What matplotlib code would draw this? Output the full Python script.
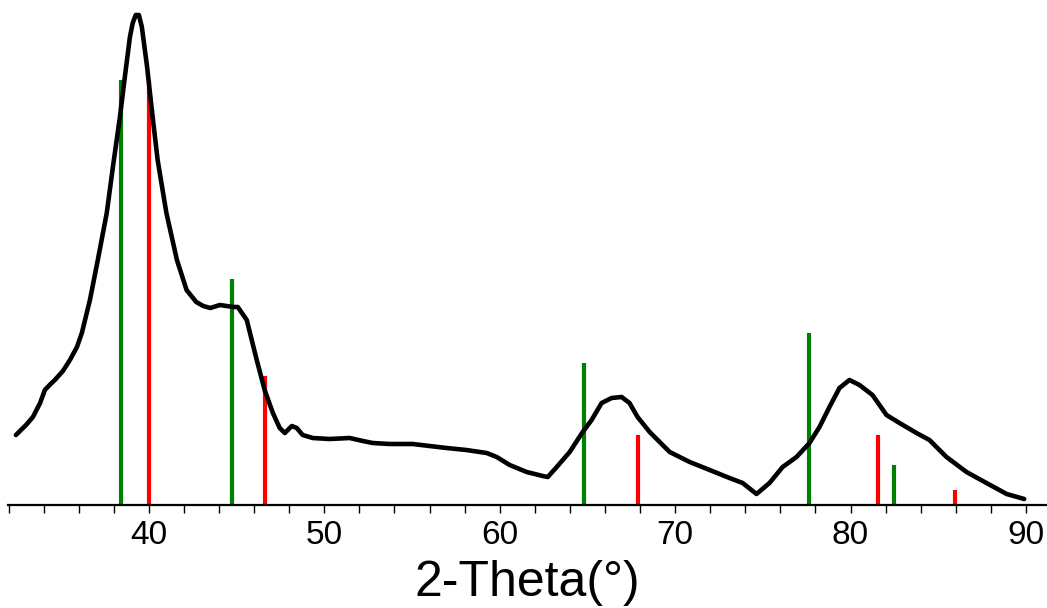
import matplotlib
matplotlib.use("Agg")
import matplotlib.pyplot as plt
from matplotlib.ticker import MultipleLocator

# XRD pattern (2-theta in degrees, intensity in arbitrary units)
two_theta = [32.42, 33.0, 33.39, 33.8, 34.07, 34.4, 34.64, 35.1, 35.5, 35.9, 36.18,
             36.64, 37.09, 37.6, 37.95, 38.35, 38.63, 38.92, 39.08, 39.25, 39.43, 39.6,
             39.9, 40.17, 40.5, 41.0, 41.6, 42.15, 42.7, 43.1, 43.5, 44.05, 44.8,
             45.07, 45.58, 46.15, 46.6, 47.07, 47.46, 47.75, 48.15, 48.43, 48.77,
             49.34, 50.3, 51.45, 52.2, 52.76, 53.73, 55.04, 56.0, 56.97, 58.1,
             59.26, 59.83, 60.57, 61.54, 62.45, 62.74, 63.25, 63.99, 64.73, 65.24,
             65.81, 66.38, 66.95, 67.4, 67.86, 68.55, 69.69, 70.83, 71.97, 73.1,
             73.85, 74.64, 75.38, 76.13, 76.92, 77.66, 78.23, 78.8, 79.37, 79.94,
             80.51, 81.25, 82.05, 82.79, 83.76, 84.5, 85.47, 86.61, 87.75, 88.9,
             89.9]
intensity = [70, 80, 88, 102, 115, 121, 125, 134, 145, 158, 172,
             205, 245, 292, 338, 388, 428, 468, 482, 490, 490, 478,
             438, 395, 345, 292, 245, 215, 203, 199, 197, 200, 198,
             198, 185, 145, 115, 92, 77, 72, 79, 77, 70,
             67, 66, 67, 64, 62, 61, 61, 59, 57, 55,
             52, 48, 40, 33, 29, 28, 38, 53, 73, 85,
             102, 107, 108, 102, 88, 73, 53, 43, 35, 27,
             22, 11, 22, 38, 48, 62, 78, 98, 117, 125,
             120, 110, 90, 82, 72, 65, 48, 33, 22, 11,
             6]

# Reference pattern sticks
green_pos = [38.40, 44.73, 64.79, 77.61, 82.45]
green_int = [425, 226, 142, 172, 40]
red_pos = [40.00, 46.61, 67.86, 81.54, 85.93]
red_int = [425, 129, 70, 70, 15]

xticks = [40, 50, 60, 70, 80, 90]
xlabel = "2-Theta(°)"

plt.rcParams['font.family'] = ['Liberation Sans', 'DejaVu Sans']

fig = plt.figure(figsize=(10.47, 6.08), dpi=100)
ax = fig.add_axes([8 / 1047, 103 / 608, 1039 / 1047, 505 / 608])

ax.vlines(green_pos, 0, green_int, colors='#008000', linewidth=3.0, zorder=2)
ax.vlines(red_pos, 0, red_int, colors='#ff0000', linewidth=3.0, zorder=2)
ax.plot(two_theta, intensity, color='black', linewidth=3.3, zorder=3,
        solid_joinstyle='round', solid_capstyle='round')

ax.set_xlim(31.97, 91.2)
ax.set_ylim(0, 505)

for s in ['top', 'left', 'right']:
    ax.spines[s].set_visible(False)
ax.spines['bottom'].set_linewidth(1.6)
ax.spines['bottom'].set_zorder(4)

ax.set_xticks(xticks)
ax.xaxis.set_minor_locator(MultipleLocator(2))
ax.tick_params(axis='x', which='both', direction='out', length=6, width=1.0,
               labelsize=24, pad=5)
ax.set_yticks([])
ax.set_xlabel(xlabel, fontsize=36, labelpad=6)

fig.savefig("out.png", dpi=100)
